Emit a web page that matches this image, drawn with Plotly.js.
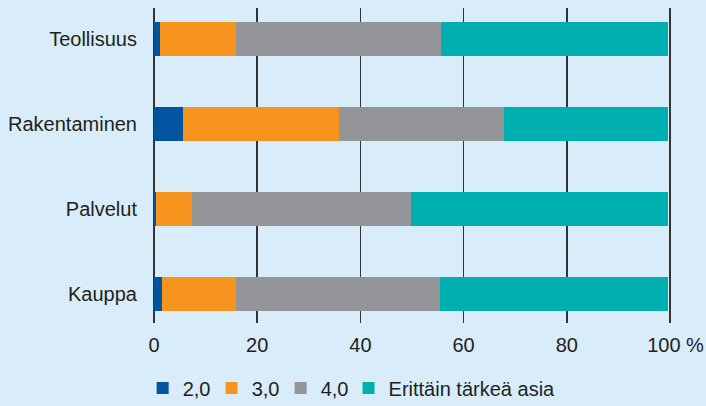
<!DOCTYPE html>
<html>
<head>
<meta charset="utf-8">
<script src="https://cdn.plot.ly/plotly-3.0.1.min.js"></script>
<style>html,body{margin:0;padding:0;background:#d8ecf9;}#chart{width:706px;height:406px;}</style>
</head>
<body>
<div id="chart"></div>
<script>
const categories = ["Teollisuus", "Rakentaminen", "Palvelut", "Kauppa"];
const seriesNames = ["2,0", "3,0", "4,0", "Erittäin tärkeä asia"];
const v20 = [1.1, 5.6, 0.3, 1.5];
const v30 = [14.7, 30.3, 7.1, 14.3];
const v40 = [39.8, 31.9, 42.4, 39.6];
const vTop = [44.0, 31.8, 49.8, 44.2];
const tickVals = [0, 20, 40, 60, 80, 100];
const tickLabels = ["0", "20", "40", "60", "80", "\u00a0\u00a0100 %"];

const colors = ["#0054a0", "#f7941d", "#939598", "#00b0b0"];
const values = [v20, v30, v40, vTop];

const traces = values.map((vals, i) => ({
  type: "bar",
  orientation: "h",
  name: seriesNames[i],
  x: vals,
  y: categories,
  width: 0.4,
  legend: i === 3 ? "legend2" : "legend",
  marker: {color: colors[i], line: {width: 0}},
  hoverinfo: "x+name"
}));

const font = {family: "Liberation Sans, Arial, sans-serif", size: 20, color: "#231f20"};

const legendBase = {
  orientation: "h",
  xanchor: "left",
  y: -0.206, yanchor: "middle",
  traceorder: "normal",
  font: font,
  bgcolor: "rgba(0,0,0,0)"
};

const layout = {
  width: 706, height: 406,
  barmode: "stack",
  paper_bgcolor: "#d8ecf9",
  plot_bgcolor: "#d8ecf9",
  font: font,
  margin: {l: 152, r: 34, t: 8, b: 83, autoexpand: false},
  showlegend: true,
  legend: Object.assign({}, legendBase, {x: -0.018, entrywidth: 24}),
  legend2: Object.assign({}, legendBase, {x: 0.378}),
  xaxis: {
    range: [-0.4, 100.4],
    tickmode: "array",
    tickvals: tickVals,
    ticktext: tickLabels,
    showgrid: true,
    gridcolor: "#333333",
    gridwidth: 1.5,
    zeroline: false,
    showline: false,
    ticks: "",
    ticklabelstandoff: 8,
    automargin: false,
    fixedrange: true
  },
  yaxis: {
    type: "category",
    range: [3.341, -0.365],
    showgrid: false,
    zeroline: false,
    showline: false,
    ticks: "",
    ticklabelstandoff: 14,
    automargin: false,
    fixedrange: true
  }
};

Plotly.newPlot("chart", traces, layout, {displayModeBar: false, staticPlot: true});
</script>
</body>
</html>
